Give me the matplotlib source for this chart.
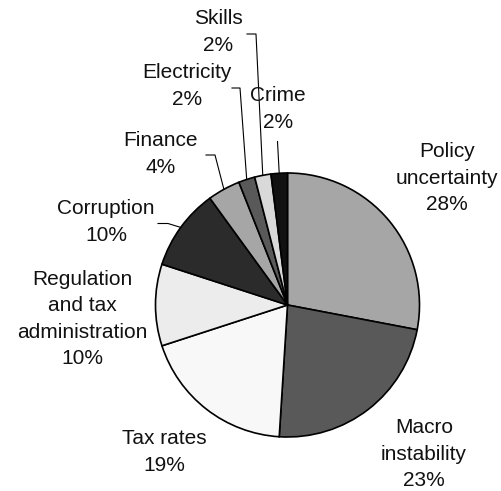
import numpy as np
import matplotlib.pyplot as plt

labels = ['Policy\nuncertainty', 'Macro\ninstability', 'Tax rates',
          'Regulation\nand tax\nadministration', 'Corruption', 'Finance',
          'Electricity', 'Skills', 'Crime']
shares = [28, 23, 19, 10, 10, 4, 2, 2, 2]
colors = ['#a6a6a6', '#595959', '#f8f8f8', '#ececec', '#2b2b2b',
          '#a6a6a6', '#595959', '#d9d9d9', '#111111']

W, H = 501, 491
# label block centres, pixel coords from top-left
label_xy = [(447, 178), (424, 454), (164, 452), (82, 319), (106, 222),
            (161, 154), (187, 86), (218, 32), (278, 109)]
# leader lines: start point and elbow (None = straight line)
leaders = {4: ((158, 223.5), (168, 223.5)),
           5: ((206, 155), (215, 155)),
           6: ((232, 88), (240, 88)),
           7: ((247, 34), (256, 34)),
           8: ((277.5, 141.5), None)}

cx, cy, r = 287.5, 305, 132

plt.rcParams['font.family'] = ['Liberation Sans', 'DejaVu Sans']
fig = plt.figure(figsize=(W / 100, H / 100), dpi=100)
ax = fig.add_axes([0, 0, 1, 1])

wedges, _ = ax.pie(shares, colors=colors, startangle=90, counterclock=False,
                   center=(cx, H - cy), radius=r, frame=True,
                   wedgeprops=dict(edgecolor='black', linewidth=1.2))
ax.set_xlim(0, W)
ax.set_ylim(0, H)
ax.set_aspect('equal')
ax.axis('off')

for i, (lab, v) in enumerate(zip(labels, shares)):
    x, y = label_xy[i]
    ax.text(x, H - y, f'{lab}\n{v}%', ha='center', va='center',
            fontsize=15, linespacing=1.5, color='#111111')

for i, (start, elbow) in leaders.items():
    w = wedges[i]
    mid = np.deg2rad((w.theta1 + w.theta2) / 2)
    ex, ey = cx + r * np.cos(mid), (H - cy) + r * np.sin(mid)
    xs = [start[0]]
    ys = [H - start[1]]
    if elbow is not None:
        xs.append(elbow[0])
        ys.append(H - elbow[1])
    xs.append(ex)
    ys.append(ey)
    ax.plot(xs, ys, color='black', linewidth=0.8)

fig.savefig('out.png', dpi=100)
